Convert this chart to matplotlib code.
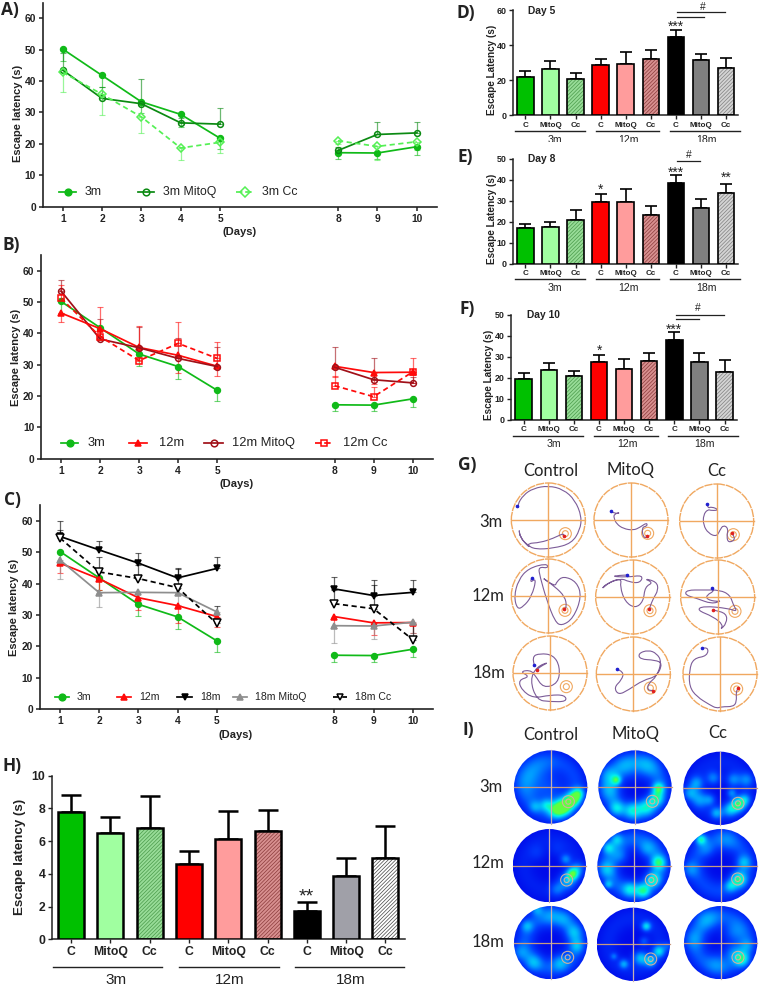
import numpy as np
import matplotlib
matplotlib.use('Agg')
import matplotlib.pyplot as plt
from matplotlib.colors import LinearSegmentedColormap
from matplotlib.patches import Circle, PathPatch
from matplotlib.path import Path

W, H = 760, 986
plt.rcParams['font.family'] = ['Liberation Sans', 'DejaVu Sans']
plt.rcParams['hatch.linewidth'] = 0.5

days = [1, 2, 3, 4, 5, 8, 9, 10]

# line panels A, B, C (error bars are one sided in the source)
y3m = [50.2, 41.8, 33.4, 29.4, 21.8, 17.2, 17.1, 19.1]
e3m = [3.8, 3.8, 3.7, 4.0, 3.5, 2.0, 2.0, 2.6]
y3mito = [43.5, 34.5, 32.8, 26.7, 26.3, 17.9, 23.0, 23.5]
e3mito = [5.5, 3.6, 8.0, 1.5, 5.0, 1.2, 4.1, 3.6]
y3cc = [42.8, 35.8, 28.6, 18.7, 20.5, 21.0, 19.2, 20.7]
e3cc = [6.3, 6.6, 5.1, 3.7, 3.3, 1.0, 4.2, 2.5]
y12m = [46.5, 41.5, 35.5, 33.0, 29.5, 29.5, 27.5, 27.6]
e12m = [3.0, 3.5, 4.0, 5.5, 3.2, 3.5, 3.8, 3.3]
y12mito = [53.5, 38.2, 35.4, 32.0, 29.4, 29.2, 25.2, 24.2]
e12mito = [3.5, 6.3, 6.6, 6.6, 6.2, 6.3, 6.8, 1.8]
y12cc = [51.2, 39.0, 31.3, 36.8, 32.0, 23.3, 19.8, 27.7]
e12cc = [4.3, 9.3, 11.0, 6.9, 5.4, 3.0, 3.2, 4.5]
y18m = [55.0, 50.7, 46.5, 41.8, 44.8, 38.3, 36.2, 37.2]
e18m = [4.9, 2.7, 3.1, 3.0, 3.5, 3.7, 4.8, 3.9]
y18mito = [47.5, 37.1, 37.2, 37.1, 31.0, 26.6, 26.5, 27.7]
e18mito = [6.0, 4.5, 4.2, 4.0, 3.0, 5.6, 4.2, 3.4]
y18cc = [54.5, 43.7, 41.6, 38.7, 27.3, 33.6, 32.0, 22.2]
e18cc = [2.5, 4.7, 4.4, 5.8, 5.7, 4.4, 7.6, 4.8]

# bar panels
bar_names = ['C', 'MitoQ', 'Cc'] * 3
group_names = ['3m', '12m', '18m']
d_vals = [22.0, 26.5, 20.7, 29.0, 29.5, 32.0, 45.0, 31.5, 27.3]
d_tops = [25.5, 31.0, 24.3, 32.2, 36.0, 37.5, 48.5, 35.3, 33.0]
e_vals = [17.2, 17.7, 21.0, 29.5, 29.3, 23.3, 38.3, 26.7, 33.5]
e_tops = [19.0, 19.7, 25.5, 33.0, 35.5, 27.7, 42.0, 31.0, 38.0]
f_vals = [19.3, 23.5, 20.7, 27.5, 24.3, 27.8, 38.0, 27.5, 22.8]
f_tops = [22.3, 27.2, 23.2, 30.7, 28.7, 32.0, 42.0, 32.0, 28.2]
h_vals = [7.8, 6.5, 6.8, 4.6, 6.15, 6.6, 1.7, 3.85, 4.95]
h_tops = [8.85, 7.5, 8.75, 5.4, 7.85, 7.9, 2.25, 4.95, 6.9]

GREEN, DGREEN, LGREEN = '#10ba18', '#0b8a12', '#55f055'
RED, DRED, GRAY = '#ff0a0a', '#a01018', '#8e8e8e'

fig = plt.figure(figsize=(W / 100, H / 100), dpi=100)
# overlay in picture pixels, for labels and rules
ov = fig.add_axes([0, 0, 1, 1], zorder=5)
ov.set_xlim(0, W)
ov.set_ylim(H, 0)
ov.axis('off')
ov.patch.set_alpha(0)


def px_axes(left, right, top, bottom):
    return fig.add_axes([left / W, 1 - bottom / H, (right - left) / W, (bottom - top) / H])


def style(ax, lw=1.2):
    for s in ['top', 'right']:
        ax.spines[s].set_visible(False)
    for s in ['left', 'bottom']:
        ax.spines[s].set_linewidth(lw)
        ax.spines[s].set_color('#222222')
    ax.patch.set_alpha(0)


def line_panel(left, right, top, base, y60, day1, day10):
    ax = px_axes(left, right, top, base)
    per_unit = (base - y60) / 60
    per_day = (day10 - day1) / 9
    ax.set_xlim(1 + (left - day1) / per_day, 1 + (right - day1) / per_day)
    ax.set_ylim(0, (base - top) / per_unit)
    ax.set_xticks(days)
    ax.set_yticks(range(0, 61, 10))
    ax.tick_params(length=3, width=1.1, labelsize=7.4, pad=2, colors='#222222')
    for t in ax.get_xticklabels() + ax.get_yticklabels():
        t.set_fontweight('bold')
    style(ax)
    return ax


def series(ax, y, err, side, color, marker, ls='-', mfc=None, ms=4.2):
    mfc = color if mfc is None else mfc
    zero = [0] * len(err)
    bars = [zero, err] if side == 'up' else [err, zero]
    ax.errorbar(days, y, yerr=bars, color=color, elinewidth=0.9, capsize=2.4,
                capthick=0.8, ls='none', alpha=0.6, zorder=2)
    for a, b in [(0, 5), (5, 8)]:
        ax.plot(days[a:b], y[a:b], color=color, ls=ls, lw=1.25, marker=marker, mfc=mfc, mec=color,
                mew=1.1, ms=ms, zorder=3, dashes=(3, 2) if ls == '--' else (None, None))


def legend_row(y, entries, size):
    for x0, x1, xt, label, color, marker, ls, mfc in entries:
        ov.plot([x0, x1], [y, y], color=color, lw=1.25, ls=ls)
        ov.plot([(x0 + x1) / 2], [y], color=color, marker=marker, mfc=mfc, mec=color, mew=1.1, ms=4.8)
        ov.text(xt, y, label, fontsize=size, va='center', ha='left', color='#222222')


# A
ax = line_panel(43, 437, 3.3, 206.7, 18.3, 62.7, 416.7)
series(ax, y3m, e3m, 'down', GREEN, 'o')
series(ax, y3mito, e3mito, 'up', DGREEN, 'o', mfc='none')
series(ax, y3cc, e3cc, 'down', LGREEN, 'D', '--', mfc='none')
legend_row(191.7, [(59, 76, 85, '3m', GREEN, 'o', '-', GREEN),
                   (138, 154, 163, '3m MitoQ', DGREEN, 'o', '-', 'none'),
                   (236, 254, 262, '3m Cc', LGREEN, 'D', '--', 'none')], 8.8)

# B
ax = line_panel(41.3, 433, 255, 458.7, 270.7, 61, 412.7)
series(ax, y3m, e3m, 'down', GREEN, 'o')
series(ax, y12m, e12m, 'down', RED, '^')
series(ax, y12mito, e12mito, 'up', DRED, 'o', mfc='none')
series(ax, y12cc, e12cc, 'up', RED, 's', '--', mfc='none', ms=4.8)
legend_row(443.3, [(61, 78, 88, '3m', GREEN, 'o', '-', GREEN),
                   (129, 147, 159, '12m', RED, '^', '-', RED),
                   (204, 223, 232, '12m MitoQ', DRED, 'o', '-', 'none'),
                   (315, 333, 343, '12m Cc', RED, 's', '--', 'none')], 9.3)

# C
ax = line_panel(40, 433, 505, 709.3, 520.7, 60, 412.7)
series(ax, y3m, e3m, 'down', GREEN, 'o')
series(ax, y12m, e12m, 'down', RED, '^')
series(ax, y18m, e18m, 'up', 'black', 'v')
series(ax, y18mito, e18mito, 'down', GRAY, '^')
series(ax, y18cc, e18cc, 'up', 'black', 'v', '--', mfc='white', ms=5.2)
legend_row(697.3, [(55, 69, 77, '3m', GREEN, 'o', '-', GREEN),
                   (117, 131, 139, '12m', RED, '^', '-', RED),
                   (177, 192, 200, '18m', 'black', 'v', '-', 'black'),
                   (233, 247, 255, '18m MitoQ', GRAY, '^', '-', GRAY),
                   (333, 347, 355, '18m Cc', 'black', 'v', '--', 'white')], 7.6)


def bar_panel(left, right, top, base, ymax, step, c0, spacing, width, vals, tops, faces, lw, tick_fs, lab_fs):
    ax = px_axes(left, right, top, base)
    ax.set_xlim((left - c0) / spacing, (right - c0) / spacing)
    ax.set_ylim(0, ymax)
    pos = np.arange(len(vals))
    vals = np.array(vals)
    w = width / spacing
    for i in pos:
        face, hatch_col = faces[i]
        if hatch_col:
            ax.bar(i, vals[i], w, color=face, edgecolor=hatch_col, hatch='/////////', lw=0, zorder=2)
            ax.bar(i, vals[i], w, fill=False, edgecolor='black', lw=lw, zorder=3)
        else:
            ax.bar(i, vals[i], w, color=face, edgecolor='black', lw=lw, zorder=3)
    ax.errorbar(pos, vals, yerr=[np.zeros(len(vals)), np.array(tops) - vals], color='black', ls='none',
                elinewidth=lw, capsize=width * 0.27, capthick=lw, zorder=1)
    ax.set_xticks(pos)
    ax.set_xticklabels(bar_names)
    ax.set_yticks(np.arange(0, ymax + 1e-6, step))
    ax.tick_params(axis='x', length=3, width=1.0, labelsize=lab_fs, pad=1.5, colors='#222222')
    ax.tick_params(axis='y', length=3, width=1.0, labelsize=tick_fs, pad=1.5, colors='#222222')
    for t in ax.get_xticklabels() + ax.get_yticklabels():
        t.set_fontweight('bold')
    style(ax, 1.1)
    return ax


faces_dark = [('#00c000', None), ('#a0ffa0', None), ('#98dc98', '#4a9a4a'),
              ('#ff0000', None), ('#ff9c9c', None), ('#d89090', '#8a3a3a'),
              ('black', None), ('#808080', None), ('#d4d4d4', '#808080')]
faces_h = list(faces_dark)
faces_h[7] = ('#a0a0a8', None)
faces_h[8] = ('white', '#444444')

bar_panel(512.7, 738, 10.3, 115.3, 60, 20, 525.3, 25.1, 16.5, d_vals, d_tops, faces_dark, 1.2, 6.4, 5.8)
bar_panel(512.7, 738, 158.7, 263.7, 50, 10, 525.3, 25.1, 16.5, e_vals, e_tops, faces_dark, 1.2, 6.4, 5.8)
bar_panel(511, 737, 314.7, 419.7, 50, 10, 523.7, 25.1, 16.5, f_vals, f_tops, faces_dark, 1.2, 6.4, 5.8)
bar_panel(51.7, 405, 775.7, 939.3, 10, 2, 71, 39.3, 26, h_vals, h_tops, faces_h, 1.8, 8.8, 8.8)


def groups(y, ranges, label_y, size, label_xs):
    for (x0, x1), name, xt in zip(ranges, group_names, label_xs):
        ov.plot([x0, x1], [y, y], color='#222222', lw=1.0)
        ov.text(xt, label_y, name, ha='center', va='center', fontsize=size, color='#222222')


groups(131, [(515, 585), (596, 659.3), (670, 740)], 140, 7.6, [555.3, 628.7, 706.3])
groups(279.3, [(515, 585), (596, 659.3), (670, 740)], 288, 7.6, [555.3, 628.7, 706.3])
groups(435.7, [(513.3, 583.3), (594.3, 657.7), (668.3, 738.3)], 444, 7.6, [553.7, 627, 704.7])
groups(966.7, [(53.3, 162.3), (179.3, 278.7), (294.7, 404)], 979.5, 11, [115.7, 230, 351])
# panel D labels are cut off in the source
ov.fill_between([500, 760], 141.5, 148, color='white', lw=0, zorder=4)


def note(x, y, s, size=7, weight='normal'):
    ov.text(x, y, s, ha='center', va='center', fontsize=size, fontweight=weight, color='#222222')


def rule(x0, x1, y):
    ov.plot([x0, x1], [y, y], color='#222222', lw=0.9)


note(676, 26.5, '***', 10)
rule(677.3, 704, 17)
rule(677.3, 725, 12.3)
note(702.7, 7.5, '#', 7.4)
ov.text(528.3, 10.7, 'Day 5', fontsize=7.4, fontweight='bold', va='center', color='#222222')

note(676, 173, '***', 10)
note(726, 177.5, '**', 10)
note(601, 189.5, '*', 10)
rule(677.3, 700, 161)
note(689.3, 155, '#', 7.4)
ov.text(528.3, 159.3, 'Day 8', fontsize=7.4, fontweight='bold', va='center', color='#222222')

note(674.3, 329.5, '***', 10)
note(599.3, 351, '*', 10)
rule(676, 698.7, 319.3)
rule(676, 723.7, 314.7)
note(697.7, 308.3, '#', 7.4)
ov.text(526.7, 315.3, 'Day 10', fontsize=7.4, fontweight='bold', va='center', color='#222222')

note(306.7, 896.5, '**', 14)

# axis titles
for x, y, s, fs in [(17.7, 113, 'Escape latency (s)', 8), (15.7, 357, 'Escape latency (s)', 8),
                    (14, 607, 'Escape latency (s)', 8), (20, 857, 'Escape latency (s)', 9.6),
                    (491.7, 70, 'Escape Latency (s)', 7.2), (491.7, 219, 'Escape Latency (s)', 7.2),
                    (489.3, 375, 'Escape Latency (s)', 7.2)]:
    ov.text(x, y, s, rotation=90, ha='center', va='center', fontsize=fs, fontweight='bold', color='#222222')
for x, y in [(240, 232.3), (236.7, 484.3), (236, 735.3)]:
    ov.text(x, y, '(Days)', ha='center', va='center', fontsize=8, fontweight='bold', color='#222222')

# panel letters
for x, y, s in [(1, 10, 'A)'), (3, 245, 'B)'), (4, 499.5, 'C)'), (3, 766.5, 'H)'), (456, 13, 'D)'),
                (457.3, 157.3, 'E)'), (459.3, 309.3, 'F)'), (458.3, 465, 'G)'), (462.7, 730, 'I)')]:
    ov.text(x, y, s, ha='left', va='center', fontsize=12.5, fontweight='bold', family='Open Sans', color='#222222')

# G: swim paths, given in 3x crop coordinates
g_centres = [[(325, 210), (573, 210), (830, 213)], [(325, 438), (578, 441), (833, 441)], [(330, 669), (580, 672), (840, 672)]]
g_rings = [[(376, 251), (623, 250), (880, 254)], [(375, 481), (630, 482), (885, 484)], [(379, 710), (631, 714), (890, 717)]]
g_paths = [
    [[(232, 167), (238, 175), (232, 165), (250, 135), (280, 115), (325, 107), (370, 118), (405, 150), (425, 200), (420, 240),
      (395, 280), (340, 295), (285, 298), (262, 285), (240, 262), (237, 235), (240, 262), (270, 295), (262, 280), (300, 278),
      (340, 265), (370, 250), (372, 258)],
     [(513, 184), (525, 192), (543, 187), (522, 192), (522, 205), (530, 222), (550, 236), (580, 241), (600, 232), (620, 218),
      (622, 228), (605, 232), (610, 263), (622, 262), (622, 257)],
     [(802, 163), (803, 175), (815, 170), (838, 180), (815, 182), (803, 178), (790, 195), (790, 225), (805, 250), (830, 260),
      (840, 240), (850, 225), (865, 235), (860, 260), (865, 278), (885, 270), (880, 255), (875, 250)]],
    [[(275, 385), (268, 400), (290, 383), (275, 440), (250, 470), (232, 478), (222, 440), (235, 390), (265, 355), (320, 340),
      (325, 355), (295, 350), (300, 380), (320, 450), (345, 515), (365, 528), (400, 505), (425, 440), (410, 395), (370, 378),
      (350, 395), (345, 410), (300, 378), (345, 410), (375, 440), (380, 470), (373, 478)],
     [(560, 375), (505, 378), (560, 382), (610, 375), (600, 400), (565, 395), (545, 385), (500, 400), (482, 420), (510, 395),
      (545, 385), (540, 410), (555, 455), (585, 475), (610, 455), (615, 410), (640, 398), (610, 385), (650, 395), (655, 420),
      (640, 445), (630, 470), (628, 478)],
     [(815, 415), (825, 422), (800, 435), (800, 448), (830, 455), (845, 452), (815, 462), (770, 445), (735, 435), (740, 420),
      (790, 420), (840, 420), (870, 435), (880, 465), (892, 485), (865, 475), (790, 468), (770, 480), (820, 500), (850, 525),
      (840, 540), (860, 520), (860, 490), (820, 480)]],
    [[(283, 645), (275, 620), (300, 610), (340, 615), (360, 650), (355, 700), (310, 715), (285, 675), (270, 660), (240, 665),
      (270, 680), (235, 690), (245, 720), (280, 745), (330, 735), (375, 735), (380, 755), (330, 755), (290, 750), (270, 690),
      (290, 650), (330, 635), (300, 650), (290, 661)],
     [(530, 657), (552, 665), (545, 690), (522, 712), (535, 735), (565, 720), (610, 690), (650, 680), (668, 640), (645, 630),
      (600, 628), (595, 610), (625, 600), (650, 610), (665, 635), (650, 680), (625, 700), (622, 720), (640, 722)],
     [(786, 595), (805, 590), (802, 618), (760, 625), (748, 660), (748, 710), (770, 740), (810, 765), (830, 775), (845, 770),
      (880, 770), (890, 755), (888, 725), (895, 715)]],
]
ORANGE = '#f0a860'


def curved_path(xs, ys):
    # quadratic segments through midpoints, so the swim path has no corners
    pts = list(zip(xs, ys))
    verts, codes = [pts[0]], [Path.MOVETO]
    for i in range(1, len(pts) - 1):
        mid = ((pts[i][0] + pts[i + 1][0]) / 2, (pts[i][1] + pts[i + 1][1]) / 2)
        verts += [pts[i], mid]
        codes += [Path.CURVE3, Path.CURVE3]
    verts.append(pts[-1])
    codes.append(Path.LINETO)
    return Path(verts, codes)


for r in range(3):
    for c in range(3):
        cx, cy = g_centres[r][c]
        cx, cy = 440 + cx / 3, 450 + cy / 3
        rad = 37
        ov.add_patch(Circle((cx, cy), rad, fill=False, ec=ORANGE, lw=1.0, ls=(0, (6, 0.6))))
        ov.plot([cx - rad, cx + rad], [cy, cy], color=ORANGE, lw=1.0)
        ov.plot([cx, cx], [cy - rad, cy + rad], color=ORANGE, lw=1.0)
        rx, ry = g_rings[r][c]
        for rr in (6, 3):
            ov.add_patch(Circle((440 + rx / 3, 450 + ry / 3), rr, fill=False, ec=ORANGE, lw=0.8))
        p = np.array(g_paths[r][c], dtype=float)
        xs, ys = 440 + p[:, 0] / 3, 450 + p[:, 1] / 3
        ov.add_patch(PathPatch(curved_path(xs, ys), fill=False, ec='#7c5c98', lw=0.8))
        ov.plot(xs[0], ys[0], 'o', color='#2020d0', ms=1.6)
        ov.plot(xs[-1], ys[-1], 'o', color='#e02020', ms=1.6)

# I: occupancy hot spots (x, y, level, spread) in 3x crop coordinates
i_centres = [[(332, 261), (585, 261), (840, 265)], [(328, 497), (582, 497), (842, 497)], [(332, 728), (580, 733), (842, 728)]]
i_rings = [[(385, 305), (637, 304), (894, 310)], [(380, 540), (634, 540), (893, 537)], [(383, 772), (632, 777), (894, 772)]]
i_ring_level = [[.2, .28, .1], [.08, .3, .22], [.26, .1, .26]]
i_spots = [
    [[(350, 330, .7, 14), (375, 318, .8, 14), (400, 297, .8, 12), (415, 280, .5, 10), (318, 315, .35, 10), (285, 320, .25, 10),
      (260, 240, .2, 30), (330, 280, .2, 30), (300, 200, .12, 30)],
     [(530, 240, .55, 8), (655, 265, .6, 10), (650, 295, .5, 12), (620, 320, .45, 14), (580, 330, .45, 14), (530, 325, .4, 12),
      (510, 270, .25, 18), (560, 205, .25, 20), (620, 200, .25, 20), (505, 225, .25, 15)],
     [(895, 315, .7, 12), (915, 300, .4, 10), (870, 330, .45, 12), (830, 340, .4, 10), (780, 300, .35, 14), (750, 280, .35, 12),
      (770, 250, .35, 12), (820, 235, .35, 12), (880, 240, .35, 12), (920, 240, .3, 12), (810, 300, .3, 10), (875, 280, .35, 8)]],
    [[(395, 525, .7, 10), (380, 545, .4, 14), (375, 480, .35, 9), (410, 510, .35, 12), (350, 570, .25, 12), (290, 460, .12, 14),
      (350, 450, .1, 14)],
     [(655, 490, .6, 12), (640, 540, .5, 12), (610, 575, .55, 12), (570, 570, .4, 12), (505, 445, .4, 10), (530, 420, .35, 10),
      (500, 510, .3, 14), (505, 555, .35, 7), (540, 470, .25, 14), (620, 450, .25, 14)],
     [(782, 420, .6, 9), (895, 540, .65, 13), (910, 490, .35, 12), (870, 560, .35, 10), (750, 510, .25, 14), (800, 450, .2, 14),
      (860, 420, .2, 20)]],
    [[(290, 630, .35, 10), (260, 680, .3, 10), (400, 700, .3, 14), (410, 740, .3, 12), (360, 790, .3, 14), (280, 790, .3, 14),
      (240, 760, .25, 14), (330, 650, .2, 18), (370, 660, .2, 15)],
     [(617, 680, .55, 8), (655, 755, .55, 10), (600, 775, .5, 12), (630, 785, .45, 10), (550, 793, .4, 8), (520, 770, .25, 6),
      (610, 725, .25, 8), (680, 740, .2, 8)],
     [(905, 780, .55, 12), (880, 760, .3, 15), (880, 700, .25, 18), (800, 660, .25, 20), (760, 720, .2, 18), (830, 790, .2, 18),
      (920, 740, .2, 12)]],
]
heat = LinearSegmentedColormap.from_list('heat', [(0, '#0000e6'), (.25, '#0040ff'), (.5, '#00a0ff'), (.72, '#00f0f0'),
                                                  (.9, '#20ff80'), (1, '#60ff40')])
for r in range(3):
    for c in range(3):
        zx, zy = i_centres[r][c]
        rad_z = 110
        gx, gy = np.meshgrid(np.linspace(zx - rad_z, zx + rad_z, 110), np.linspace(zy - rad_z, zy + rad_z, 110))
        dist = np.hypot(gx - zx, gy - zy) / rad_z
        field = 0.04 + i_ring_level[r][c] * np.exp(-((dist - 0.7) / 0.28) ** 2)
        for sx, sy, lev, sp in i_spots[r][c]:
            field = field + lev * np.exp(-((gx - sx) ** 2 + (gy - sy) ** 2) / (2 * (1.25 * sp) ** 2))
        cx, cy = 440 + zx / 3, 700 + zy / 3
        rad = rad_z / 3
        im = ov.imshow(np.clip(field, 0, 1), cmap=heat, vmin=0, vmax=1, origin='upper', aspect='auto',
                       extent=[cx - rad, cx + rad, cy + rad, cy - rad], interpolation='bilinear')
        im.set_clip_path(Circle((cx, cy), rad, transform=ov.transData))
        ov.plot([cx - rad, cx + rad], [cy, cy], color='#c89a80', lw=0.9)
        ov.plot([cx, cx], [cy - rad, cy + rad], color='#c8b0b0', lw=0.9)
        ax_r = i_rings[r][c]
        for rr in (6, 2.5):
            ov.add_patch(Circle((440 + ax_r[0] / 3, 700 + ax_r[1] / 3), rr, fill=False, ec='#d0b0a0', lw=0.8))
ov.set_xlim(0, W)
ov.set_ylim(H, 0)

# G and I headings in the lighter face
for x, y, s in [(550.7, 470.7, 'Control'), (630.7, 470, 'MitoQ'), (716.7, 470.7, 'Cc'),
                (491, 521.7, '3m'), (488.3, 596, '12m'), (489, 672.7, '18m'),
                (550.7, 735, 'Control'), (635.7, 734.3, 'MitoQ'), (717.3, 733.3, 'Cc'),
                (491, 786.7, '3m'), (488.3, 863.3, '12m'), (487.7, 941.7, '18m')]:
    ov.text(x, y, s, ha='center', va='center', fontsize=12, family='Lato', color='#222222')

fig.savefig('out.png', dpi=100, facecolor='white')
